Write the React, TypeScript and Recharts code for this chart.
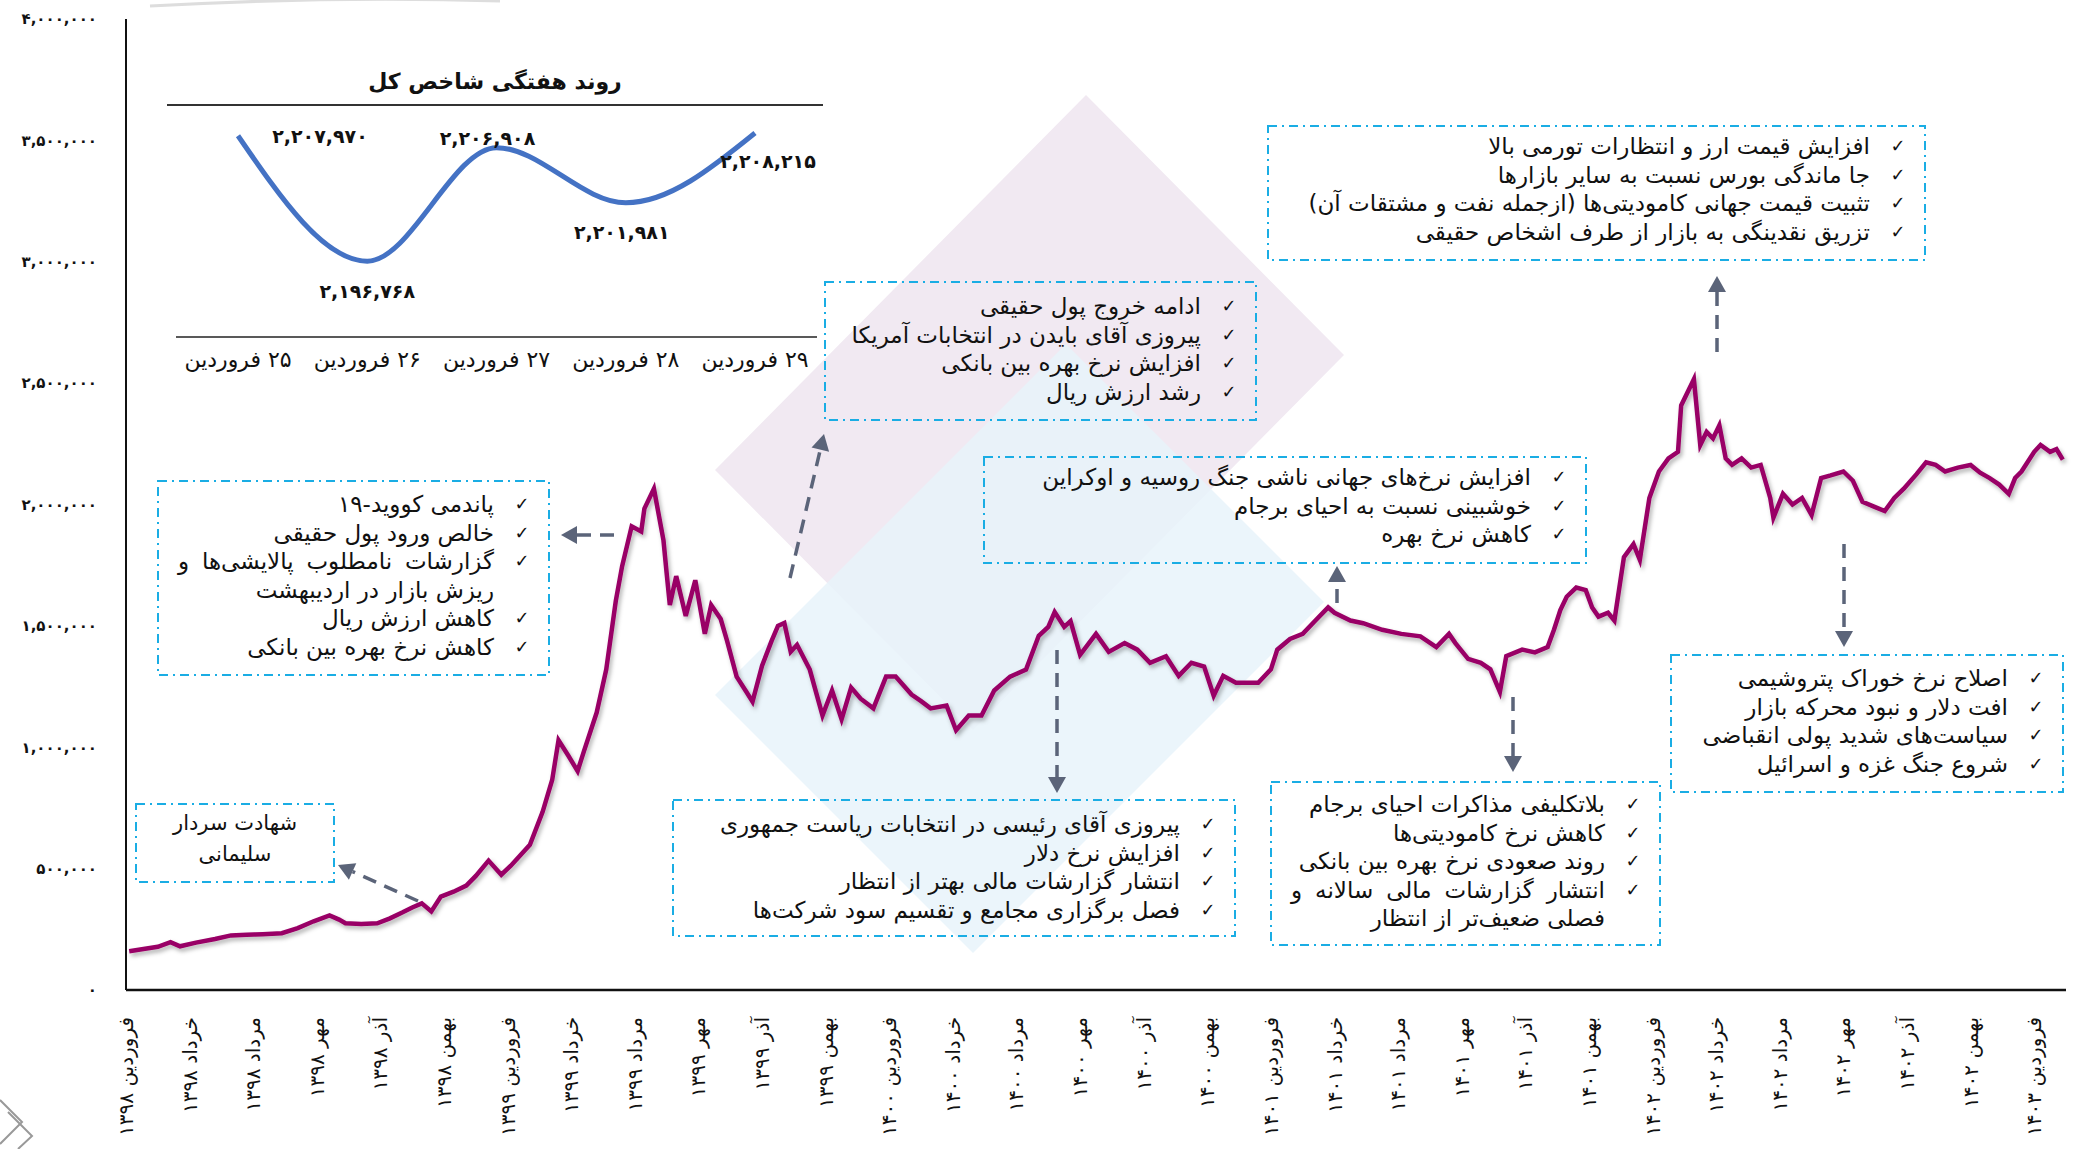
import React from 'react'
import { LineChart, Line, XAxis, YAxis, LabelList } from 'recharts'

// month index from start of Farvardin 1398 -> total index (thousands)
const monthIndex = [
  0.1, 0.6, 1.0, 1.4, 1.7, 2.2, 2.8, 3.3, 3.8, 4.3, 4.9, 5.4, 5.9, 6.4, 6.7, 6.9, 7.4, 7.9, 8.3, 8.7,
  9.0, 9.3, 9.6, 9.9, 10.3, 10.7, 11.0, 11.4, 11.8, 12.1, 12.4, 12.7, 13.1, 13.4, 13.6, 13.9, 14.2, 14.4, 14.8, 15.1,
  15.4, 15.6, 15.9, 16.2, 16.3, 16.6, 16.9, 17.0, 17.1, 17.3, 17.6, 17.9, 18.2, 18.4, 18.7, 18.9, 19.2, 19.5, 19.7, 20.0,
  20.3, 20.5, 20.7, 20.9, 21.1, 21.5, 21.9, 22.2, 22.5, 22.8, 23.1, 23.5, 23.9, 24.2, 24.7, 25.0, 25.3, 25.8, 26.1, 26.5,
  26.9, 27.3, 27.8, 28.3, 28.7, 29.0, 29.2, 29.5, 29.7, 30.0, 30.5, 30.9, 31.4, 31.8, 32.2, 32.7, 33.1, 33.5, 33.9, 34.2,
  34.5, 34.9, 35.6, 36.0, 36.2, 36.6, 37.0, 37.4, 37.8, 38.0, 38.5, 38.9, 39.5, 40.1, 40.7, 41.2, 41.6, 41.8, 42.2, 42.6,
  42.9, 43.2, 43.4, 43.9, 44.3, 44.7, 44.9, 45.1, 45.3, 45.6, 45.9, 46.1, 46.3, 46.6, 46.8, 47.1, 47.4, 47.6, 47.9, 48.2,
  48.5, 48.8, 48.9, 49.3, 49.5, 49.7, 49.9, 50.1, 50.3, 50.5, 50.8, 51.1, 51.4, 51.7, 51.8, 52.1, 52.4, 52.7, 53.0, 53.3,
  53.6, 54.0, 54.3, 54.6, 55.0, 55.3, 55.6, 55.9, 56.3, 56.6, 56.9, 57.2, 57.6, 58.0, 58.3, 58.6, 58.9, 59.2, 59.4, 59.6,
  60.0, 60.2, 60.5, 60.7, 60.9,
]
const indexThousands = [
  160, 170, 178, 197, 180, 195, 210, 225, 228, 230, 234, 255, 283, 307, 290, 275, 272, 275, 295, 320,
  340, 357, 324, 385, 405, 430, 470, 533, 475, 512, 555, 598, 734, 865, 1029, 967, 902, 984, 1143, 1320,
  1602, 1746, 1910, 1889, 1983, 2065, 1852, 1717, 1586, 1705, 1541, 1688, 1467, 1586, 1528, 1438, 1291, 1230, 1188, 1336,
  1438, 1500, 1512, 1393, 1422, 1320, 1131, 1234, 1115, 1246, 1200, 1160, 1291, 1291, 1217, 1190, 1160, 1172, 1070, 1131,
  1131, 1234, 1291, 1320, 1459, 1496, 1557, 1496, 1520, 1381, 1467, 1393, 1429, 1402, 1348, 1375, 1294, 1348, 1332, 1212,
  1294, 1266, 1266, 1321, 1402, 1446, 1467, 1522, 1576, 1554, 1522, 1511, 1484, 1467, 1457, 1413, 1467, 1429, 1364, 1348,
  1321, 1228, 1375, 1402, 1391, 1413, 1484, 1565, 1620, 1658, 1647, 1576, 1538, 1554, 1522, 1783, 1837, 1772, 2027, 2136,
  2190, 2217, 2408, 2516, 2245, 2299, 2272, 2326, 2190, 2163, 2190, 2152, 2163, 2027, 1946, 2044, 2000, 2027, 1957, 2109,
  2120, 2136, 2098, 2011, 1989, 1973, 2027, 2065, 2125, 2174, 2163, 2136, 2152, 2163, 2131, 2109, 2082, 2044, 2109, 2136,
  2217, 2245, 2217, 2228, 2185,
]

const xTickMonths = [0, 2, 4, 6, 8, 10, 12, 14, 16, 18, 20, 22, 24, 26, 28, 30, 32, 34, 36, 38, 40, 42, 44, 46, 48, 50, 52, 54, 56, 58, 60]
const xTickLabels = [
  'فروردین ۱۳۹۸', 'خرداد ۱۳۹۸', 'مرداد ۱۳۹۸', 'مهر ۱۳۹۸', 'آذر ۱۳۹۸', 'بهمن ۱۳۹۸',
  'فروردین ۱۳۹۹', 'خرداد ۱۳۹۹', 'مرداد ۱۳۹۹', 'مهر ۱۳۹۹', 'آذر ۱۳۹۹', 'بهمن ۱۳۹۹',
  'فروردین ۱۴۰۰', 'خرداد ۱۴۰۰', 'مرداد ۱۴۰۰', 'مهر ۱۴۰۰', 'آذر ۱۴۰۰', 'بهمن ۱۴۰۰',
  'فروردین ۱۴۰۱', 'خرداد ۱۴۰۱', 'مرداد ۱۴۰۱', 'مهر ۱۴۰۱', 'آذر ۱۴۰۱', 'بهمن ۱۴۰۱',
  'فروردین ۱۴۰۲', 'خرداد ۱۴۰۲', 'مرداد ۱۴۰۲', 'مهر ۱۴۰۲', 'آذر ۱۴۰۲', 'بهمن ۱۴۰۲',
  'فروردین ۱۴۰۳',
]
const yTicks = [0, 500000, 1000000, 1500000, 2000000, 2500000, 3000000, 3500000, 4000000]

const insetDays = ['۲۵ فروردین', '۲۶ فروردین', '۲۷ فروردین', '۲۸ فروردین', '۲۹ فروردین']
const insetValues = [2207970, 2196768, 2206908, 2201981, 2208215]

const notes = [
  {
    box: [158, 481, 391, 194], padTop: 9,
    lines: [
      ['پاندمی کووید-۱۹', true],
      ['خالص ورود پول حقیقی', true],
      ['گزارشات نامطلوب پالایشی‌ها و', true, true],
      ['ریزش بازار در اردیبهشت', false],
      ['کاهش ارزش ریال', true],
      ['کاهش نرخ بهره بین بانکی', true],
    ],
  },
  {
    box: [825, 282, 431, 138], padTop: 10,
    lines: [
      ['ادامه خروج پول حقیقی', true],
      ['پیروزی آقای بایدن در انتخابات آمریکا', true],
      ['افزایش نرخ بهره بین بانکی', true],
      ['رشد ارزش ریال', true],
    ],
  },
  {
    box: [673, 800, 562, 136], padTop: 10,
    lines: [
      ['پیروزی آقای رئیسی در انتخابات ریاست جمهوری', true],
      ['افزایش نرخ دلار', true],
      ['انتشار گزارشات مالی بهتر از انتظار', true],
      ['فصل برگزاری مجامع و تقسیم سود شرکت‌ها', true],
    ],
  },
  {
    box: [984, 457, 602, 106], padTop: 6,
    lines: [
      ['افزایش نرخ‌های جهانی ناشی جنگ روسیه و اوکراین', true],
      ['خوشبینی نسبت به احیای برجام', true],
      ['کاهش نرخ بهره', true],
    ],
  },
  {
    box: [1271, 782, 389, 163], padTop: 8,
    lines: [
      ['بلاتکلیفی مذاکرات احیای برجام', true],
      ['کاهش نرخ کامودیتی‌ها', true],
      ['روند صعودی نرخ بهره بین بانکی', true],
      ['انتشار گزارشات مالی سالانه و', true, true],
      ['فصلی ضعیف‌تر از انتظار', false],
    ],
  },
  {
    box: [1268, 126, 657, 134], padTop: 6,
    lines: [
      ['افزایش قیمت ارز و انتظارات تورمی بالا', true],
      ['جا ماندگی بورس نسبت به سایر بازارها', true],
      ['تثبیت قیمت جهانی کامودیتی‌ها (ازجمله نفت و مشتقات آن)', true],
      ['تزریق نقدینگی به بازار از طرف اشخاص حقیقی', true],
    ],
  },
  {
    box: [1671, 655, 392, 137], padTop: 9,
    lines: [
      ['اصلاح نرخ خوراک پتروشیمی', true],
      ['افت دلار و نبود محرکه بازار', true],
      ['سیاست‌های شدید پولی انقباضی', true],
      ['شروع جنگ غزه و اسرائیل', true],
    ],
  },
]

// arrows: [fromX, fromY, tipX, tipY]
const arrows = [
  [418, 901, 338, 865],
  [614, 535, 561, 535],
  [790, 578, 824, 434],
  [1057, 650, 1057, 793],
  [1337, 603, 1337, 566],
  [1513, 697, 1513, 772],
  [1717, 352, 1717, 276],
  [1844, 544, 1844, 647],
]

const mainRows = monthIndex.map((m, i) => ({ m, v: indexThousands[i] * 1000 }))
const insetRows = insetDays.map((d, i) => ({ d, v: insetValues[i] }))
const insetLabelOffset = [[82, 7], [0, 37], [-9, -3], [-4, 36], [13, 35]]

const toFa = (s: string) => s.replace(/\d/g, (d) => '۰۱۲۳۴۵۶۷۸۹'[+d])
const fmt = (n: number) => toFa(n.toLocaleString('en-US'))
const FONT = '"DejaVu Sans", sans-serif'

function MonthTick(props: any) {
  const { x, y, payload } = props
  const label = xTickLabels[xTickMonths.indexOf(payload.value)]
  return (
    <text x={x} y={y} transform={`rotate(-90, ${x}, ${y})`} textAnchor="end" dy="0.35em"
      fontFamily={FONT} fontSize={20} fill="#111">
      {label}
    </text>
  )
}

function ValueTick(props: any) {
  const { x, y, payload } = props
  return (
    <text x={x} y={y} textAnchor="end" dy="0.35em" fontFamily={FONT} fontSize={15} fontWeight="bold" fill="#111">
      {fmt(payload.value)}
    </text>
  )
}

function DayTick(props: any) {
  const { x, y, payload } = props
  return (
    <text x={x} y={y} textAnchor="middle" direction="rtl" dy="0.71em" fontFamily={FONT} fontSize={22} fill="#111">
      {payload.value}
    </text>
  )
}

function Arrow({ a }: { a: number[] }) {
  const [x1, y1, x2, y2] = a
  const len = Math.hypot(x2 - x1, y2 - y1)
  const ux = (x2 - x1) / len
  const uy = (y2 - y1) / len
  const hl = 16
  const hw = 9
  const bx = x2 - ux * hl
  const by = y2 - uy * hl
  return (
    <g>
      <line x1={x1} y1={y1} x2={bx} y2={by} stroke="#5b6479" strokeWidth={3.5} strokeDasharray="14 9" />
      <polygon points={`${x2},${y2} ${bx - uy * hw},${by + ux * hw} ${bx + uy * hw},${by - ux * hw}`} fill="#5b6479" />
    </g>
  )
}

export default function App() {
  return (
    <div style={{ position: 'absolute', left: 0, top: 0, width: 2076, height: 1149, background: '#fff', overflow: 'hidden' }}>
      <svg width={2076} height={1149} style={{ position: 'absolute', left: 0, top: 0 }}>
        <polygon points="1086,95 1344,355 973,730 715,470" fill="#f1e9f2" />
        <polygon points="715,695 973,953 1324,602 1066,344" fill="#e8f3fa" opacity={0.85} />
        <path d="M 150 6 Q 330 -4 500 1" stroke="#ddd" strokeWidth={3} fill="none" />
        <path d="M 0 1100 L 22 1122 L 0 1144 M 8 1112 L 32 1136 L 18 1149" stroke="#999" strokeWidth={2} fill="none" />
      </svg>

      <div style={{ position: 'absolute', left: 0, top: 0 }}>
        <LineChart width={2076} height={1149} data={mainRows} margin={{ top: 19, right: 10, bottom: 0, left: 0 }}>
          <defs>
            <filter id="lineShadow" x="-5%" y="-5%" width="110%" height="115%">
              <feDropShadow dx="2" dy="3" stdDeviation="2" floodColor="#000" floodOpacity="0.3" />
            </filter>
          </defs>
          <XAxis dataKey="m" type="number" domain={[0, 61]} ticks={xTickMonths} interval={0} height={159}
            tickSize={0} tickMargin={27} axisLine={{ stroke: '#111', strokeWidth: 2.5 }} tick={<MonthTick />} />
          <YAxis type="number" domain={[0, 4000000]} ticks={yTicks} width={126} tickSize={0} tickMargin={29}
            axisLine={{ stroke: '#111', strokeWidth: 2 }} tick={<ValueTick />} />
          <Line dataKey="v" type="linear" stroke="#990066" strokeWidth={4.5} dot={false}
            isAnimationActive={false} filter="url(#lineShadow)" />
        </LineChart>
      </div>

      <div style={{ position: 'absolute', left: 150, top: 90 }}>
        <LineChart width={700} height={300} data={insetRows} margin={{ top: 23, right: 33, bottom: 13, left: 26 }}>
          <XAxis dataKey="d" height={40} padding={{ left: 62, right: 62 }} tickSize={0} tickMargin={14}
            axisLine={{ stroke: '#222', strokeWidth: 1.5 }} tick={<DayTick />} />
          <YAxis hide domain={[2190000, 2210000]} />
          <Line dataKey="v" type="monotone" stroke="#4472c4" strokeWidth={5} dot={false} isAnimationActive={false}>
            <LabelList dataKey="v" content={(p: any) => {
              const o = insetLabelOffset[p.index] || [0, 0]
              return (
                <text x={p.x + o[0]} y={p.y + o[1]} textAnchor="middle" fontFamily={FONT} fontSize={19}
                  fontWeight="bold" fill="#111">
                  {fmt(p.value)}
                </text>
              )
            }} />
          </Line>
        </LineChart>
      </div>

      <div style={{ position: 'absolute', left: 167, top: 69, width: 656, textAlign: 'center', fontFamily: FONT,
        fontSize: 22, fontWeight: 'bold', direction: 'rtl', color: '#111' }}>
        روند هفتگی شاخص کل
      </div>
      <div style={{ position: 'absolute', left: 167, top: 104, width: 656, height: 2, background: '#333' }} />

      <svg width={2076} height={1149} style={{ position: 'absolute', left: 0, top: 0 }}>
        <rect x={136} y={804} width={198} height={78} fill="none" stroke="#1aade4" strokeWidth={2} strokeDasharray="9 5 2 5" />
        {notes.map((n, i) => (
          <rect key={i} x={n.box[0]} y={n.box[1]} width={n.box[2]} height={n.box[3]} fill="none"
            stroke="#1aade4" strokeWidth={2} strokeDasharray="9 5 2 5" />
        ))}
        {arrows.map((a, i) => <Arrow key={i} a={a} />)}
      </svg>

      <div style={{ position: 'absolute', left: 136, top: 808, width: 198, textAlign: 'center', direction: 'rtl',
        fontFamily: FONT, fontSize: 21, lineHeight: '31px', color: '#111' }}>
        <div>شهادت سردار</div>
        <div>سلیمانی</div>
      </div>

      {notes.map((n, i) => (
        <div key={i} style={{ position: 'absolute', left: n.box[0], top: n.box[1], width: n.box[2], boxSizing: 'border-box',
          paddingTop: n.padTop, paddingRight: 13, paddingLeft: 20, direction: 'rtl', fontFamily: FONT, fontSize: 23,
          lineHeight: '28.5px', color: '#111' }}>
          {n.lines.map((l: any, j: number) => (
            <div key={j} style={{ display: 'flex', flexDirection: 'row' }}>
              <span style={{ width: 28, flex: '0 0 28px', textAlign: 'center', fontSize: 18 }}>{l[1] ? '✓' : ''}</span>
              <span style={{ flex: 1, paddingRight: 14, whiteSpace: 'nowrap', textAlign: l[2] ? 'justify' : 'right',
                textAlignLast: l[2] ? 'justify' : 'right' }}>{l[0]}</span>
            </div>
          ))}
        </div>
      ))}
    </div>
  )
}
